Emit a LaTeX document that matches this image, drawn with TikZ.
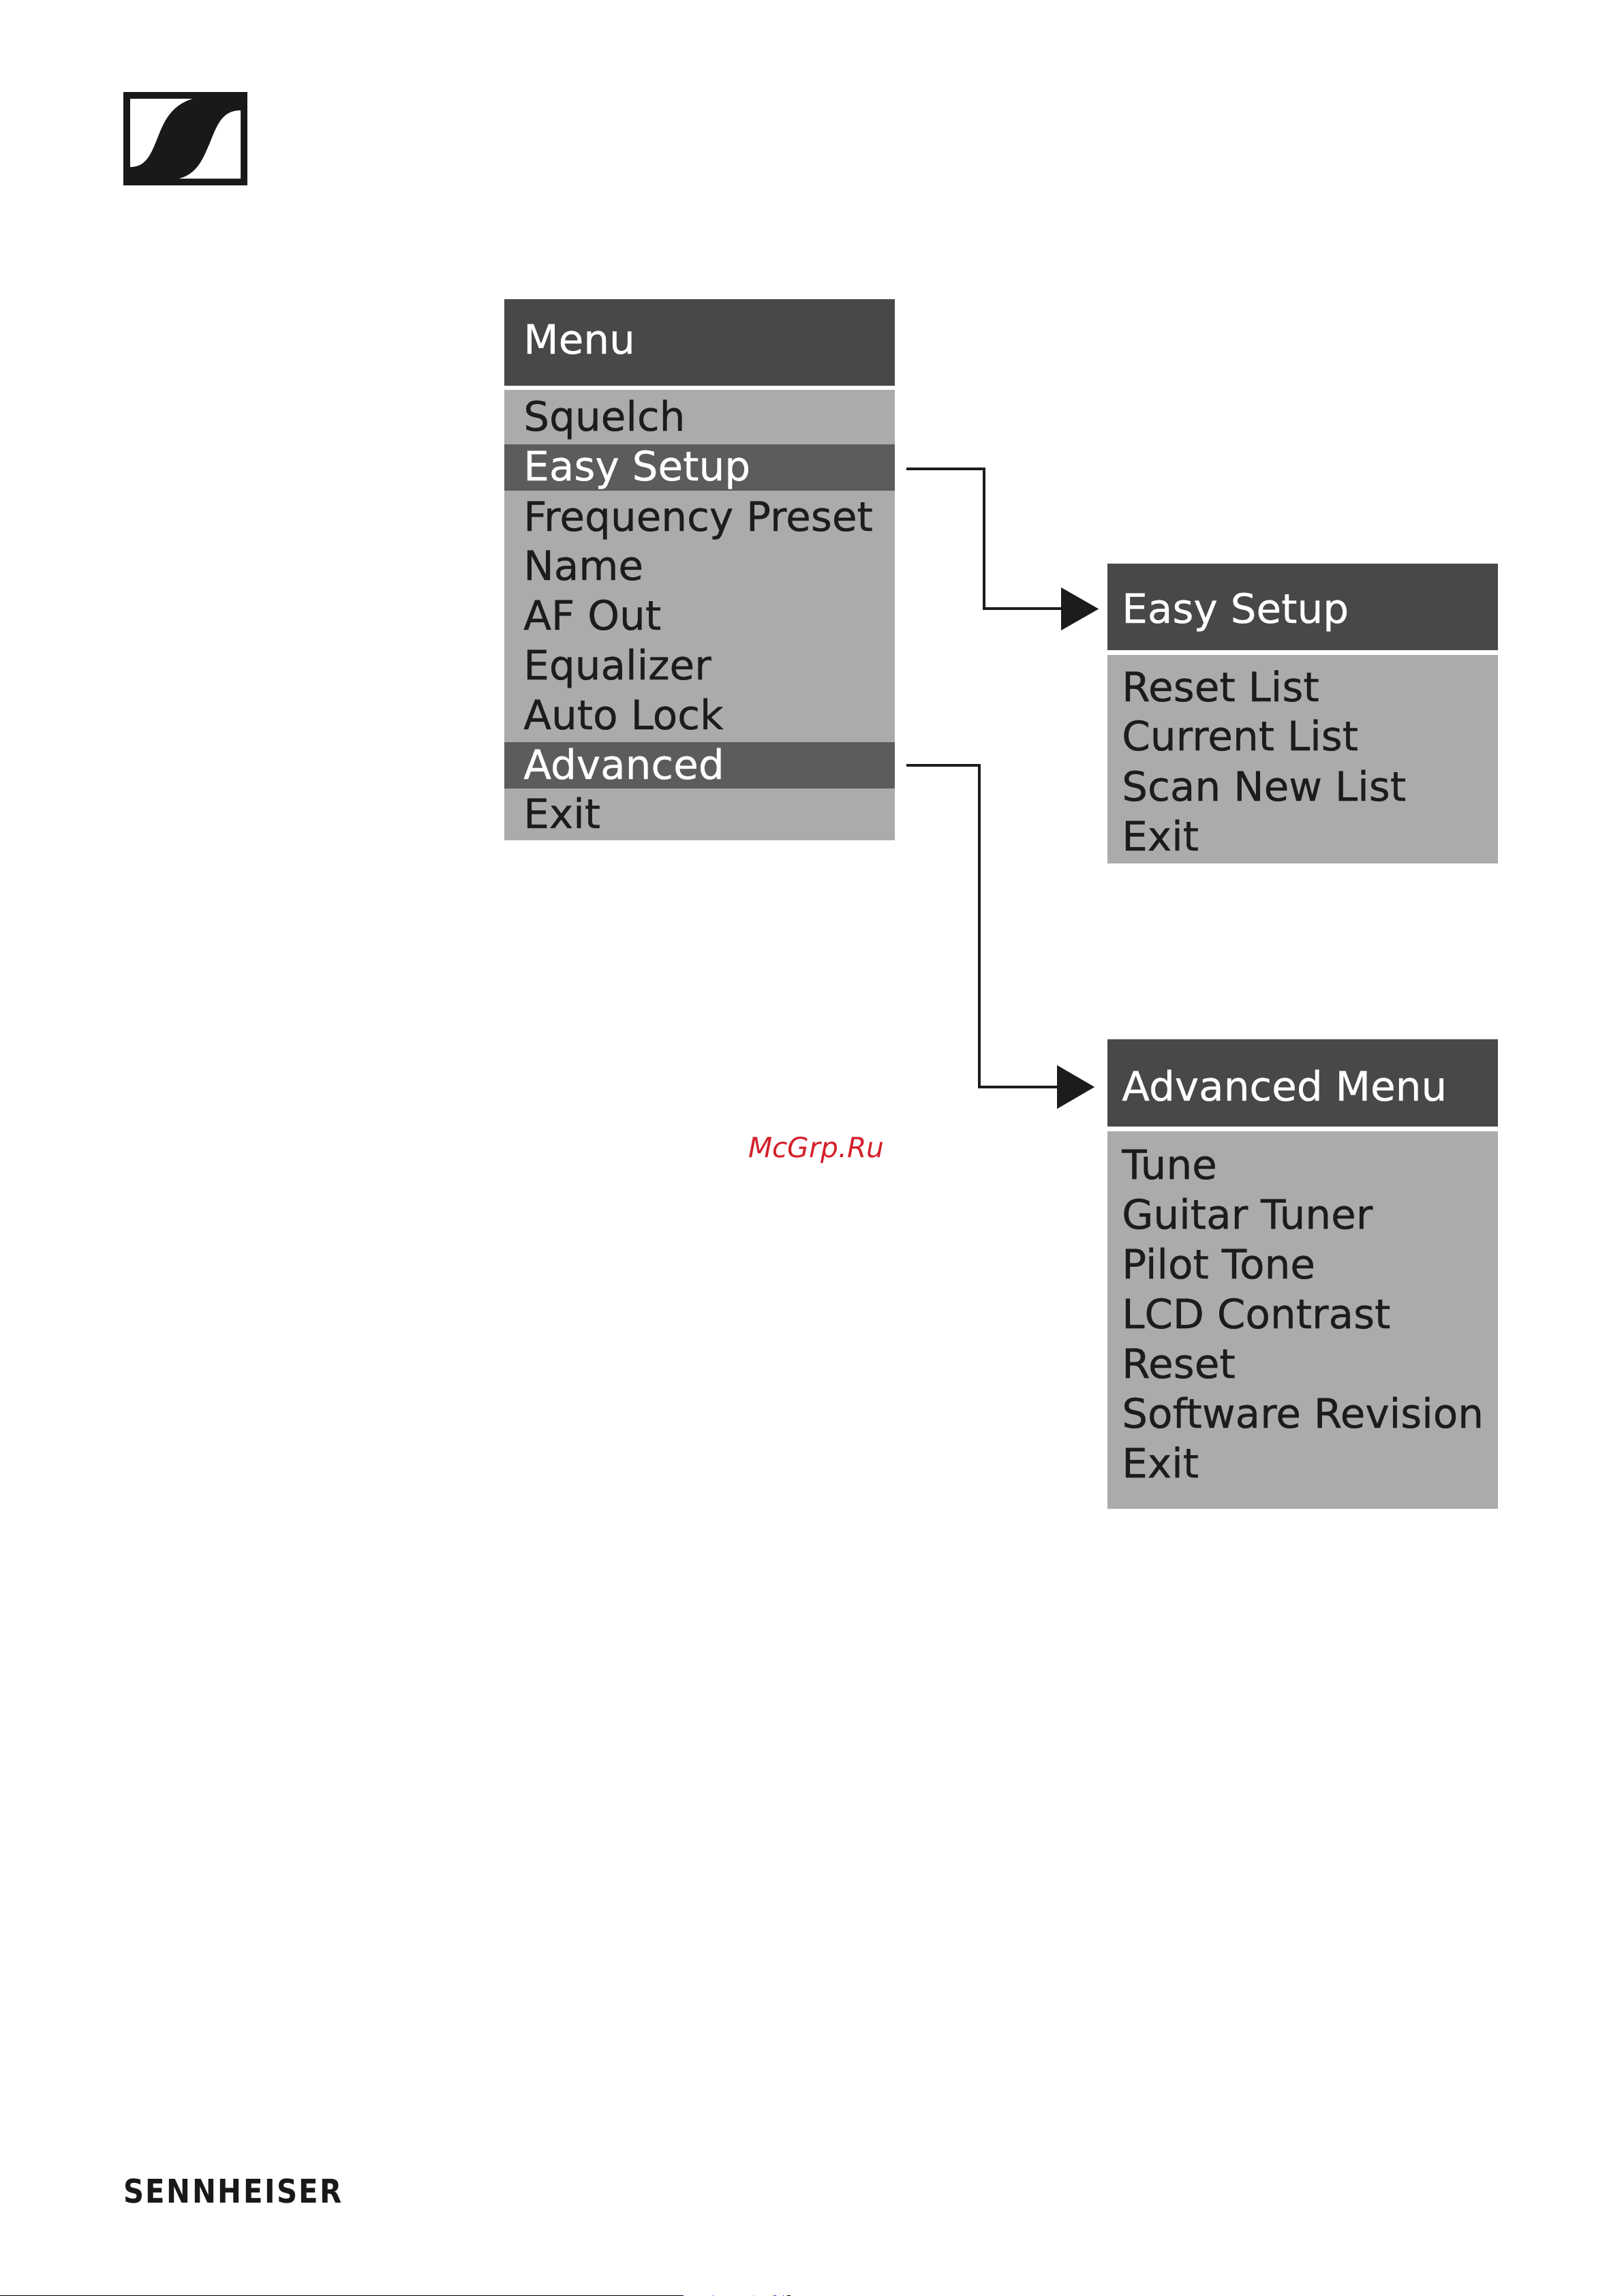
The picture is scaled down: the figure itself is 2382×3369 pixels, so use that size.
\documentclass[tikz,border=0pt]{standalone}
\usepackage{fontspec}
\setmainfont{DejaVu Sans}
\newfontfamily\menufont[FakeBold=0.5]{DejaVu Sans}
\newfontfamily\markfont[LetterSpace=6]{DejaVu Sans}
\definecolor{hdr}{HTML}{484848}
\definecolor{sel}{HTML}{5C5C5C}
\definecolor{body}{HTML}{ABABAB}
\definecolor{ink}{HTML}{1C1C1B}
\definecolor{logo}{HTML}{181A19}
\definecolor{wm}{HTML}{D4202A}
\newcommand{\fsz}{\menufont\fontsize{59.6}{60}\selectfont}
\tikzset{
 x=1pt,y=-1pt,
 box/.style={anchor=north west,inner sep=0,outer sep=0,minimum width=573pt},
 hdrbox/.style={box,fill=hdr},
 bodybox/.style={box,fill=body},
 selbox/.style={box,fill=sel},
 dtxt/.style={anchor=base west,inner sep=0,text=ink,font=\fsz},
 ltxt/.style={anchor=base west,inner sep=0,text=white,font=\fsz},
 conn/.style={draw=ink,line width=4pt},
 tip/.style={fill=ink,draw=none},
}
\begin{document}
\begin{tikzpicture}
\useasboundingbox (0,0) rectangle (2382,3369);
\fill[white] (0,0) rectangle (2382,3369);
% logo
\fill[logo] (181,135) rectangle (362.5,272);
\fill[white] (191,145) -- (282,145) .. controls (250,155) and (240,180) .. (232,200) .. controls (222,225) and (215,245) .. (191,245) -- cycle;
\fill[white] (353,162) -- (353,262) -- (263,262) .. controls (290,255) and (298,232) .. (307,212) .. controls (318,185) and (325,162) .. (353,162) -- cycle;
% main menu
\node[hdrbox,minimum height=127pt] (mh) at (740,439) {};
\node[bodybox,minimum height=661pt] (mb) at (740,572) {};
\node[selbox,minimum height=68pt] (ms1) at (740,652) {};
\node[selbox,minimum height=68pt] (ms2) at (740,1089) {};
\node[ltxt] at (768,519) {Menu};
\node[dtxt] at (768,632) {Squelch};
\node[ltxt] (t1) at (768,705) {Easy Setup};
\node[dtxt] at (768,779) {Frequency Preset};
\node[dtxt] at (768,851) {Name};
\node[dtxt] at (768,924) {AF Out};
\node[dtxt] at (768,997) {Equalizer};
\node[dtxt] at (768,1070) {Auto Lock};
\node[ltxt] (t2) at (768,1143) {Advanced};
\node[dtxt] at (768,1215) {Exit};
% easy setup
\node[hdrbox,minimum height=127pt] (eh) at (1625,827) {};
\node[bodybox,minimum height=306pt] (eb) at (1625,961) {};
\node[ltxt] at (1646,914) {Easy Setup};
\node[dtxt] at (1646,1029) {Reset List};
\node[dtxt] at (1646,1101) {Current List};
\node[dtxt] at (1646,1175) {Scan New List};
\node[dtxt] at (1646,1248) {Exit};
% advanced
\node[hdrbox,minimum height=128pt] (ah) at (1625,1525) {};
\node[bodybox,minimum height=554pt] (ab) at (1625,1660) {};
\node[ltxt] at (1646,1615) {Advanced Menu};
\node[dtxt] at (1646,1730) {Tune};
\node[dtxt] at (1646,1803) {Guitar Tuner};
\node[dtxt] at (1646,1876) {Pilot Tone};
\node[dtxt] at (1646,1949) {LCD Contrast};
\node[dtxt] at (1646,2022) {Reset};
\node[dtxt] at (1646,2095) {Software Revision};
\node[dtxt] at (1646,2168) {Exit};
% connectors
\coordinate (c1) at (1330,688);
\coordinate (c1e) at (1557,893);
\coordinate (c2) at (1330,1123);
\coordinate (c2e) at (1551,1595);
\draw[conn] (c1) -| (1444,893) -- (c1e);
\fill[tip] (1557,862) -- (1612,893.5) -- (1557,925) -- cycle;
\draw[conn] (c2) -| (1437,1595) -- (c2e);
\fill[tip] (1551,1563) -- (1606,1595) -- (1551,1627) -- cycle;
% watermark
\node[anchor=base west,inner sep=0,text=wm,font=\fontsize{40.8}{41}\selectfont\itshape] at (1098,1698) {McGrp.Ru};
% wordmark
\node[anchor=base west,inner sep=0,text=logo,font=\markfont\fontsize{48}{48}\selectfont\bfseries,xscale=0.87] at (181,3232) {SENNHEISER};
% footer
\fill[black] (0,3367.5) rectangle (1002,3369);
\fill[blue] (1002,3367.5) rectangle (1003,3369);
\fill[blue] (1046,3367.5) rectangle (1047,3369);
\fill[orange] (1105,3367.5) rectangle (1106,3369);
\fill[yellow] (1134,3367.5) rectangle (1135,3369);
\fill[black] (1135,3367.5) rectangle (1136,3369);
\fill[blue] (1137,3367.5) rectangle (1139,3369);
\fill[blue] (1149,3367.5) rectangle (1150,3369);
\fill[yellow] (1154,3367.5) rectangle (1155,3369);
\fill[black] (1155,3367.5) rectangle (1160,3369);
\end{tikzpicture}
\end{document}
